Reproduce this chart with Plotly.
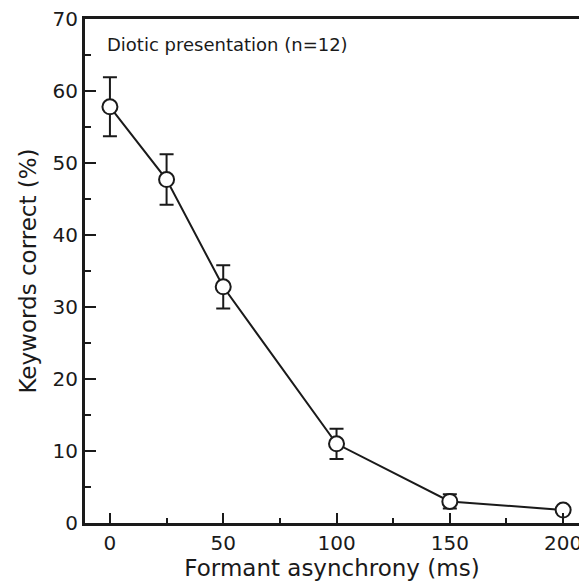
import plotly.graph_objects as go

asynchrony_ms = [0, 25, 50, 100, 150, 200]
keywords_correct = [57.8, 47.7, 32.8, 11.0, 3.0, 1.8]
error_pct = [4.1, 3.5, 3.0, 2.1, 1.0, 0.4]
x_tick_vals = [0, 50, 100, 150, 200]
y_tick_vals = [0, 10, 20, 30, 40, 50, 60, 70]
annotation_text = "Diotic presentation (n=12)"

FONT = "DejaVu Sans"
INK = "#1a1a1a"

fig = go.Figure()
fig.add_trace(go.Scatter(
    x=asynchrony_ms, y=keywords_correct,
    mode="lines+markers",
    line=dict(color=INK, width=2),
    marker=dict(symbol="circle", size=15, color="white",
                line=dict(color=INK, width=2)),
    error_y=dict(type="data", array=error_pct, visible=True,
                 color=INK, thickness=2, width=7),
    showlegend=False,
    cliponaxis=False,
))

fig.update_layout(
    width=579, height=582,
    margin=dict(l=85, r=0, t=19, b=59, autoexpand=False),
    paper_bgcolor="white", plot_bgcolor="white",
    font=dict(family=FONT, color=INK, size=20),
    annotations=[dict(
        text=annotation_text, x=0, y=1, xref="paper", yref="paper",
        xanchor="left", yanchor="top", xshift=20, yshift=-13,
        showarrow=False, font=dict(family=FONT, size=18, color=INK),
    )],
)

fig.update_xaxes(
    range=[-11, 207], tickvals=x_tick_vals,
    ticks="inside", ticklen=10, tickwidth=2, tickcolor=INK,
    showline=True, linewidth=3, linecolor=INK, mirror=True,
    showgrid=False, zeroline=False, automargin=False,
    ticklabeloverflow="allow",
    minor=dict(dtick=25, tick0=0, ticks="inside", ticklen=5, tickwidth=2,
               tickcolor=INK, showgrid=False),
    title=dict(text="Formant asynchrony (ms)", font=dict(size=23), standoff=2),
    tickfont=dict(size=20),
)
fig.update_yaxes(
    range=[0, 70], tickvals=y_tick_vals,
    ticks="inside", ticklen=11, tickwidth=2, tickcolor=INK,
    showline=True, linewidth=3, linecolor=INK, mirror=False,
    showgrid=False, zeroline=False, automargin=False,
    minor=dict(dtick=5, tick0=0, ticks="inside", ticklen=6, tickwidth=2,
               tickcolor=INK, showgrid=False),
    title=dict(text="Keywords correct (%)", font=dict(size=23), standoff=10),
    tickfont=dict(size=20),
)

fig.write_html("out.html",
               config={"displayModeBar": False},
               post_script="document.body.style.margin='0';"
                           "document.body.style.overflow='hidden';")
